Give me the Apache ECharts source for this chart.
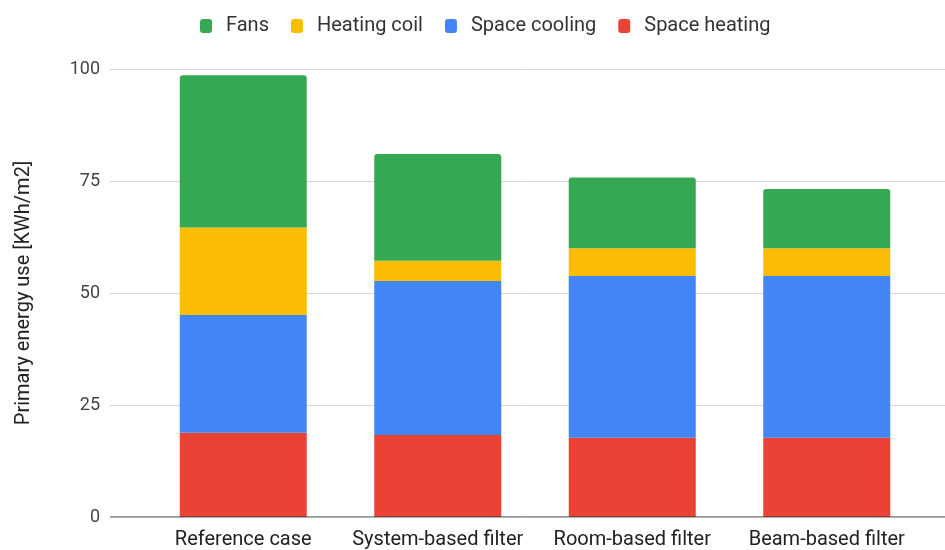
<!DOCTYPE html>
<html>
<head>
<meta charset="utf-8">
<script src="https://cdn.jsdelivr.net/npm/echarts@6/dist/echarts.min.js"></script>
<style>
  html, body { margin: 0; padding: 0; background: #fff; }
  #chart { width: 945px; height: 550px; }
</style>
</head>
<body>
<div id="chart"></div>
<script>
// Primary energy use per case, split by end use (kWh/m2)
const categories = ['Reference case', 'System-based filter', 'Room-based filter', 'Beam-based filter'];
const spaceHeating = [18.8, 18.3, 17.7, 17.7];
const spaceCooling = [26.3, 34.4, 36.1, 36.1];
const heatingCoil  = [19.5, 4.5, 6.2, 6.2];
const fans         = [34.0, 23.8, 15.8, 13.2];
const yTicks = [0, 25, 50, 75, 100];
const legendOrder = ['Fans', 'Heating coil', 'Space cooling', 'Space heating'];

const FONT = 'Roboto, Arial, sans-serif';
const colors = {
  'Space heating': '#ea4335',
  'Space cooling': '#4285f4',
  'Heating coil': '#fbbc04',
  'Fans': '#34a853'
};

function barSeries(name, data, top) {
  return {
    name: name,
    type: 'bar',
    stack: 'total',
    xAxisIndex: 1,
    yAxisIndex: 1,
    barWidth: 127,
    data: data,
    itemStyle: {
      color: colors[name],
      borderRadius: top ? [3, 3, 0, 0] : 0
    },
    emphasis: { disabled: true }
  };
}

const chart = echarts.init(document.getElementById('chart'), null, { renderer: 'canvas' });
chart.setOption({
  animation: false,
  backgroundColor: '#ffffff',
  legend: {
    data: legendOrder,
    top: 11,
    left: 195,
    itemWidth: 12,
    itemHeight: 14,
    itemGap: 22,
    icon: 'roundRect',
    textStyle: { fontFamily: FONT, fontSize: 20, color: '#333', padding: [0, 0, 0, 9] },
    selectedMode: false
  },
  grid: [
    // wide grid: gridlines, tick labels and baseline
    { left: 110, right: 0, top: 69, bottom: 33 },
    // inner grid holding the bars
    { left: 146, right: 21, top: 69, bottom: 33 }
  ],
  xAxis: [
    {
      gridIndex: 0, type: 'value', min: 0, max: 1,
      axisLine: { show: false }, axisTick: { show: false },
      axisLabel: { show: false }, splitLine: { show: false }
    },
    {
      gridIndex: 1, type: 'category', data: categories,
      axisLine: { show: false }, axisTick: { show: false },
      axisLabel: { interval: 0, fontFamily: FONT, fontSize: 20, color: '#222', margin: 13 }
    }
  ],
  yAxis: [
    {
      gridIndex: 0, type: 'value', min: yTicks[0], max: yTicks[yTicks.length - 1], interval: 25,
      name: 'Primary energy use [KWh/m2]',
      nameLocation: 'middle',
      nameGap: 76,
      nameTextStyle: { fontFamily: FONT, fontSize: 20, color: '#222' },
      axisLine: { show: false }, axisTick: { show: false },
      axisLabel: { fontFamily: FONT, fontSize: 18, color: '#444', margin: 10 },
      splitLine: { lineStyle: { color: '#d9d9d9', width: 1 } }
    },
    {
      gridIndex: 1, type: 'value', min: 0, max: 100, interval: 25,
      axisLine: { show: false }, axisTick: { show: false },
      axisLabel: { show: false }, splitLine: { show: false }
    }
  ],
  series: [
    barSeries('Space heating', spaceHeating, false),
    barSeries('Space cooling', spaceCooling, false),
    barSeries('Heating coil', heatingCoil, false),
    barSeries('Fans', fans, true),
    {
      // baseline at zero across the full plot width
      type: 'line',
      xAxisIndex: 0,
      yAxisIndex: 0,
      data: [[0, 0], [1, 0]],
      symbol: 'none',
      lineStyle: { color: '#333', width: 1 },
      silent: true,
      z: 5
    }
  ]
});
</script>
</body>
</html>
